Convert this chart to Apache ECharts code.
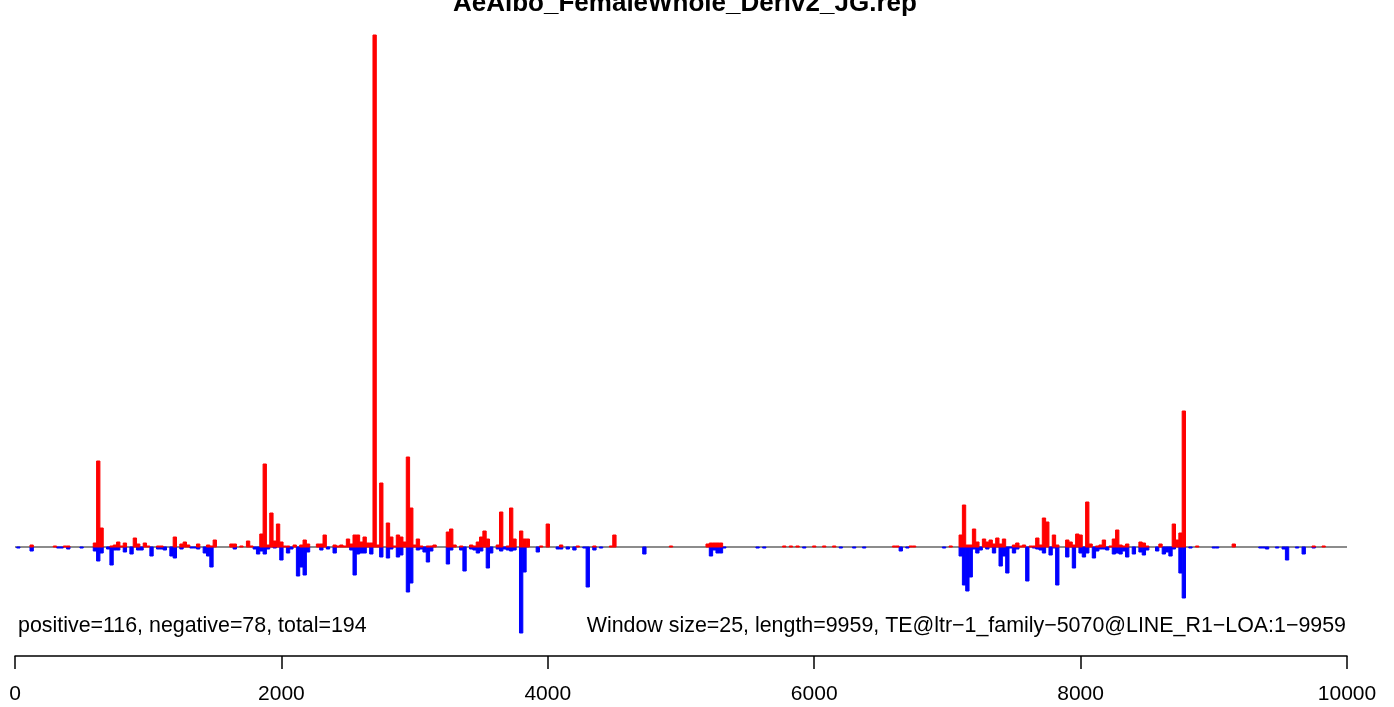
<!DOCTYPE html>
<html><head><meta charset="utf-8">
<script src="https://cdn.jsdelivr.net/npm/echarts@6/dist/echarts.min.js"></script>
<style>html,body{margin:0;padding:0;background:#fff}#c{width:1394px;height:707px}</style>
</head><body><div id="c"></div>
<script>
const titleText = 'AeAlbo_FemaleWhole_Deriv2_JG.rep';
const leftNote = 'positive=116, negative=78, total=194';
const rightNote = 'Window size=25, length=9959, TE@ltr\u22121_family\u22125070@LINE_R1\u2212LOA:1\u22129959';
const windowSize = 25;
const xTicks = [0, 2000, 4000, 6000, 8000, 10000];

// [window index, value] — positive strand (red)
const redBars = [[5,2],[12,1],[15,1],[16,1],[24,4],[25,86],[26,19],[29,1],[30,2],[31,5],[32,1],[33,4],[36,9],[37,3],[39,4],[40,1],[43,1],[44,1],[48,10],[50,3],[51,5],[52,2],[55,3],[58,2],[59,1],[60,7],[65,3],[66,3],[68,1],[70,6],[71,1],[74,13],[75,83],[76,2],[77,34],[78,6],[79,23],[80,5],[81,1],[82,1],[84,2],[86,2],[87,7],[88,3],[91,3],[92,3],[93,12],[96,2],[97,1],[98,2],[99,1],[100,8],[101,3],[102,12],[103,12],[104,5],[105,10],[106,4],[107,4],[108,512],[109,2],[110,64],[112,24],[113,10],[114,1],[115,12],[116,10],[117,5],[118,90],[119,39],[120,2],[121,8],[122,1],[124,1],[125,1],[126,2],[130,15],[131,18],[132,2],[134,1],[137,2],[138,1],[139,5],[140,10],[141,16],[142,8],[145,2],[146,35],[148,1],[149,39],[150,8],[152,16],[153,8],[154,8],[158,1],[160,23],[164,2],[169,1],[174,1],[179,1],[180,12],[197,1],[208,3],[209,4],[210,4],[211,4],[212,4],[231,1],[233,1],[235,1],[240,1],[243,1],[246,1],[264,1],[265,1],[269,1],[270,1],[281,1],[284,12],[285,42],[286,2],[287,2],[288,18],[289,5],[291,8],[292,5],[293,7],[294,3],[295,9],[296,3],[297,8],[300,2],[301,4],[302,1],[303,2],[305,1],[306,1],[307,9],[308,2],[309,29],[310,25],[312,12],[313,2],[316,7],[317,5],[318,2],[319,13],[320,12],[322,45],[323,3],[325,1],[326,2],[327,7],[329,1],[330,8],[331,17],[332,2],[333,1],[334,3],[338,5],[339,4],[340,1],[344,3],[348,23],[349,7],[350,14],[351,136],[355,1],[366,3],[390,1],[393,1]];

// [window index, value] — negative strand (blue)
const blueBars = [[1,-1],[5,-4],[13,-1],[14,-1],[16,-2],[20,-1],[24,-4],[25,-14],[26,-6],[28,-2],[29,-18],[30,-3],[31,-3],[33,-5],[35,-7],[37,-3],[38,-3],[41,-9],[43,-2],[44,-2],[45,-3],[47,-9],[48,-11],[50,-2],[53,-1],[54,-1],[55,-2],[57,-6],[58,-9],[59,-20],[66,-2],[72,-2],[73,-7],[74,-4],[75,-7],[76,-2],[78,-1],[80,-13],[82,-6],[83,-2],[85,-29],[86,-20],[87,-28],[88,-5],[92,-3],[94,-2],[96,-6],[101,-3],[102,-28],[103,-7],[104,-6],[105,-6],[107,-7],[110,-10],[112,-11],[113,-2],[115,-10],[116,-8],[118,-45],[119,-36],[121,-3],[122,-2],[123,-5],[124,-15],[125,-4],[130,-17],[131,-3],[134,-3],[135,-24],[137,-2],[138,-3],[139,-6],[140,-4],[142,-21],[143,-6],[145,-2],[146,-4],[147,-2],[148,-3],[149,-4],[150,-3],[152,-86],[153,-25],[157,-5],[163,-2],[164,-2],[166,-2],[168,-3],[171,-1],[172,-40],[174,-3],[176,-1],[189,-7],[209,-9],[210,-3],[211,-6],[212,-6],[213,-1],[223,-1],[225,-1],[237,-1],[248,-1],[252,-1],[255,-1],[266,-4],[268,-1],[279,-1],[284,-9],[285,-38],[286,-44],[287,-30],[288,-2],[289,-6],[290,-3],[292,-2],[294,-6],[296,-19],[297,-9],[298,-26],[299,-1],[300,-6],[301,-2],[304,-34],[306,-1],[307,-2],[308,-3],[309,-6],[311,-8],[312,-1],[313,-38],[316,-10],[318,-21],[320,-6],[321,-10],[322,-6],[324,-11],[325,-4],[326,-2],[327,-2],[328,-3],[330,-7],[331,-6],[332,-7],[333,-4],[334,-10],[336,-7],[338,-5],[339,-8],[340,-3],[343,-4],[345,-7],[346,-5],[347,-9],[348,-2],[350,-26],[351,-51],[353,-1],[360,-1],[361,-1],[374,-1],[375,-1],[376,-2],[379,-1],[381,-2],[382,-13],[385,-1],[387,-7],[390,-1]];

const FONT = '"Liberation Sans", Arial, Helvetica, sans-serif';

function toData(arr){ return arr.map(d => [d[0]*windowSize, d[1]]); }
function barItem(color){
  return function(params, api){
    const pos = api.value(0), v = api.value(1);
    const p0 = api.coord([pos - windowSize/2, 0]);
    const p1 = api.coord([pos + windowSize/2, v]);
    return {type:'rect',
      shape:{x:p0[0], y:Math.min(p0[1],p1[1]), width:p1[0]-p0[0], height:Math.abs(p1[1]-p0[1])},
      style:{fill:color, stroke:color, lineWidth:1}};
  };
}

const chart = echarts.init(document.getElementById('c'), null, {renderer:'canvas'});
chart.setOption({
  animation:false,
  backgroundColor:'#ffffff',
  title:{text:titleText, left:448, top:-14,
    textStyle:{fontFamily:FONT, fontSize:26, fontWeight:'bold', color:'#000'}},
  grid:{left:15, right:47, top:35, bottom:74, containLabel:false},
  xAxis:{type:'value', min:xTicks[0], max:xTicks[xTicks.length-1], interval:2000,
    offset:23,
    axisLine:{show:true, onZero:false, lineStyle:{color:'#000', width:1.5}},
    axisTick:{show:true, length:13, lineStyle:{color:'#000', width:1.5}},
    axisLabel:{margin:28, fontFamily:FONT, fontSize:21, color:'#000',
      formatter: v => String(v)},
    splitLine:{show:false}},
  yAxis:{type:'value', min:-86, max:512, show:false, splitLine:{show:false}},
  graphic:[
    {type:'text', x:18, y:626, style:{text:leftNote, font:'21.4px '+FONT, fill:'#000', textVerticalAlign:'middle', textAlign:'left'}},
    {type:'text', x:1346, y:626, style:{text:rightNote, font:'21.4px '+FONT, fill:'#000', textVerticalAlign:'middle', textAlign:'right'}}
  ],
  series:[
    {type:'line', data:[[0,0],[10000,0]], symbol:'none', silent:true, z:1,
      lineStyle:{color:'#8c8c8c', width:2}},
    {type:'custom', renderItem:barItem('#0000ff'), data:toData(blueBars), z:2, silent:true},
    {type:'custom', renderItem:barItem('#ff0000'), data:toData(redBars), z:3, silent:true}
  ]
});
</script>
</body></html>
